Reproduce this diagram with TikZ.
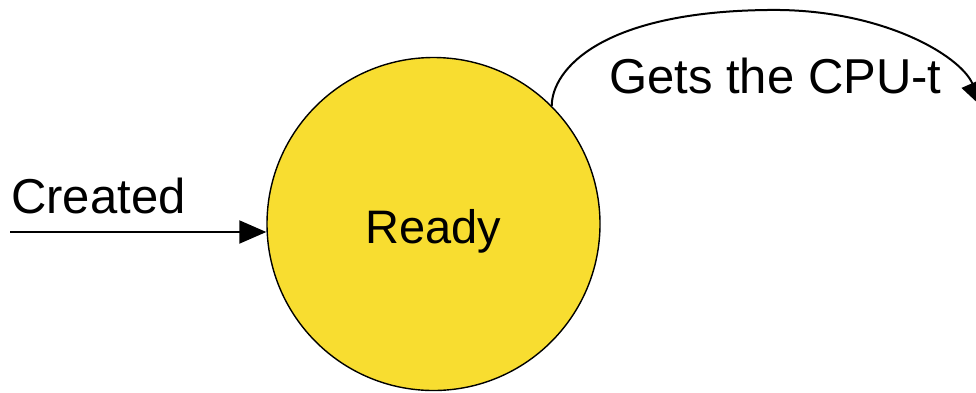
\documentclass[tikz,border=0pt]{standalone}
\usepackage{fontspec}
\setmainfont{Liberation Sans}
\usetikzlibrary{arrows.meta}
\definecolor{stateyellow}{RGB}{248,221,48}
\begin{document}
\begin{tikzpicture}[x=1pt,y=-1pt,
  statecircle/.style={circle,draw=black,line width=1.4pt,fill=stateyellow,minimum size=333pt,inner sep=0pt},
  bigtext/.style={font=\fontsize{49}{58}\selectfont,inner sep=0pt},
  readytext/.style={font=\fontsize{47}{56}\selectfont,inner sep=0pt},
  conn/.style={draw=black,line width=2pt,-{Triangle[length=27pt,width=23pt]}}]
\useasboundingbox (0,0) rectangle (976,392);
\node[statecircle] (ready) at (433.5,224) {};
\node[readytext,anchor=base] (readylabel) at (433,243) {Ready};
\node[bigtext,anchor=base west] (createdlabel) at (11,213) {Created};
\node[bigtext,anchor=base west] (getslabel) at (609,93) {Gets the CPU-t};
\coordinate (createdstart) at (10,232);
\coordinate (arctop) at (767,10);
\coordinate (runtip) at (983,108);
\draw[conn] (createdstart) -- (createdstart -| ready.west);
\draw[conn] (ready.45) .. controls (552,70) and (600,12) .. (arctop)
  .. controls (880,8) and (960,55) .. (runtip);
\end{tikzpicture}
\end{document}
